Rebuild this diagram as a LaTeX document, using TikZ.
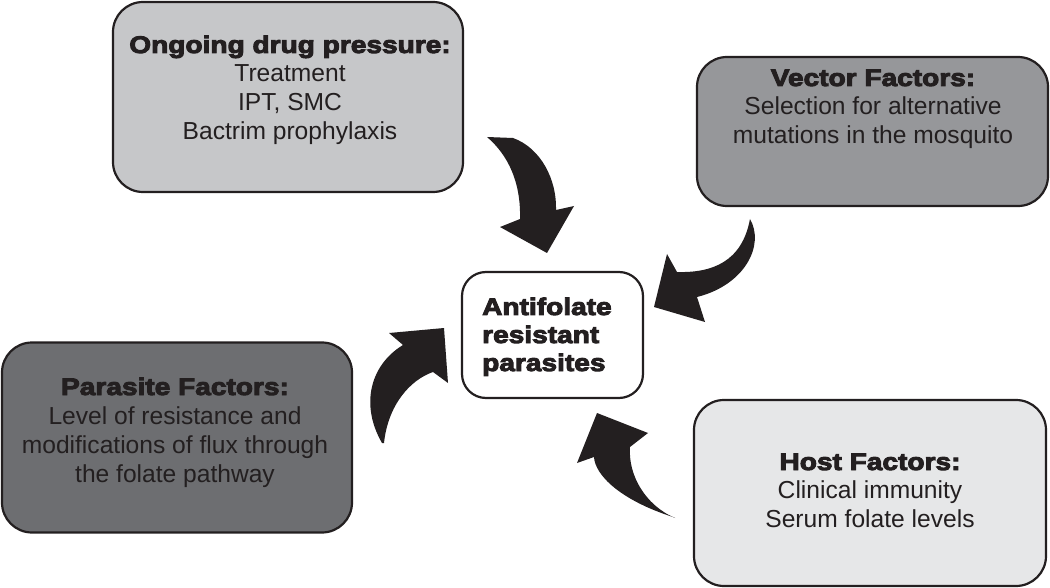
\documentclass[tikz,border=0pt]{standalone}
\usepackage{fontspec}
\setmainfont{Liberation Sans}
\newfontfamily\headfont{Liberation Sans}[BoldFeatures={FakeStretch=1.17,FakeBold=4}]
\definecolor{ink}{RGB}{35,31,32}
\definecolor{drugfill}{RGB}{198,199,201}
\definecolor{vectorfill}{RGB}{150,151,154}
\definecolor{parasitefill}{RGB}{109,110,113}
\definecolor{hostfill}{RGB}{230,231,232}
\tikzset{
  box/.style={draw=ink, line width=2.2pt, rounded corners=30pt, inner sep=0pt},
  head/.style={anchor=base, font=\headfont\bfseries\fontsize{24}{29}\selectfont, text=ink, inner sep=0pt},
  body/.style={anchor=base, font=\fontsize{24.6}{29}\selectfont, text=ink, inner sep=0pt},
  blockarrow/.style={fill=ink, draw=none},
}
\begin{document}
\begin{tikzpicture}[x=1pt,y=-1pt]
\useasboundingbox (0,0) rectangle (1050,588);
% boxes
\node[box, fill=drugfill, minimum width=350pt, minimum height=190pt] (drug) at (288,97) {};
\node[box, fill=vectorfill, minimum width=351pt, minimum height=149pt] (vector) at (872.5,131.5) {};
\node[box, fill=parasitefill, minimum width=350pt, minimum height=190pt] (parasite) at (177,437.5) {};
\node[box, fill=hostfill, minimum width=352pt, minimum height=186pt] (host) at (870,493) {};
\node[box, fill=white, rounded corners=24pt, minimum width=181pt, minimum height=126pt] (center) at (552.5,335) {};
% texts
\node[head] (drugh) at (290,53) {Ongoing drug pressure:};
\node[body] (drug1) at (290,82) {Treatment};
\node[body] (drug2) at (290,111) {IPT, SMC};
\node[body] (drug3) at (290,140) {Bactrim prophylaxis};
\node[head] (vech) at (873,86) {Vector Factors:};
\node[body] (vec1) at (873,115) {Selection for alternative};
\node[body] (vec2) at (873,144) {mutations in the mosquito};
\node[head] (parh) at (175,395) {Parasite Factors:};
\node[body] (par1) at (175,424) {Level of resistance and};
\node[body] (par2) at (175,453) {modifications of flux through};
\node[body] (par3) at (175,482) {the folate pathway};
\node[head] (hosth) at (870,470) {Host Factors:};
\node[body] (host1) at (870,498) {Clinical immunity};
\node[body] (host2) at (870,527) {Serum folate levels};
\node[head, anchor=base west] (c1) at (482,315) {Antifolate};
\node[head, anchor=base west] (c2) at (482,343) {resistant};
\node[head, anchor=base west] (c3) at (482,371) {parasites};
% block arrows
\fill[blockarrow] (487,137) -- (513,138) .. controls (541,148) and (557,180) .. (556,210)
  -- (574,206) -- (547,253) -- (500,227) -- (520,219)
  .. controls (521,182) and (508,155) .. (487,137) -- cycle;
\fill[blockarrow] (750,219) .. controls (765,245) and (745,285) .. (697,297)
  -- (705,322) -- (654,307) -- (667,254) -- (677,272)
  .. controls (712,273) and (742,262) .. (750,219) -- cycle;
\fill[blockarrow] (382,443) .. controls (360,405) and (370,365) .. (403,345)
  -- (389,333) -- (444,328) -- (448,383) -- (433,372)
  .. controls (410,380) and (388,405) .. (384,443) -- cycle;
\fill[blockarrow] (673,517) .. controls (620,500) and (595,475) .. (594,457)
  -- (577,463) -- (597,413) -- (648,433) -- (630,447)
  .. controls (628,475) and (645,505) .. (675,518) -- cycle;
\end{tikzpicture}
\end{document}
